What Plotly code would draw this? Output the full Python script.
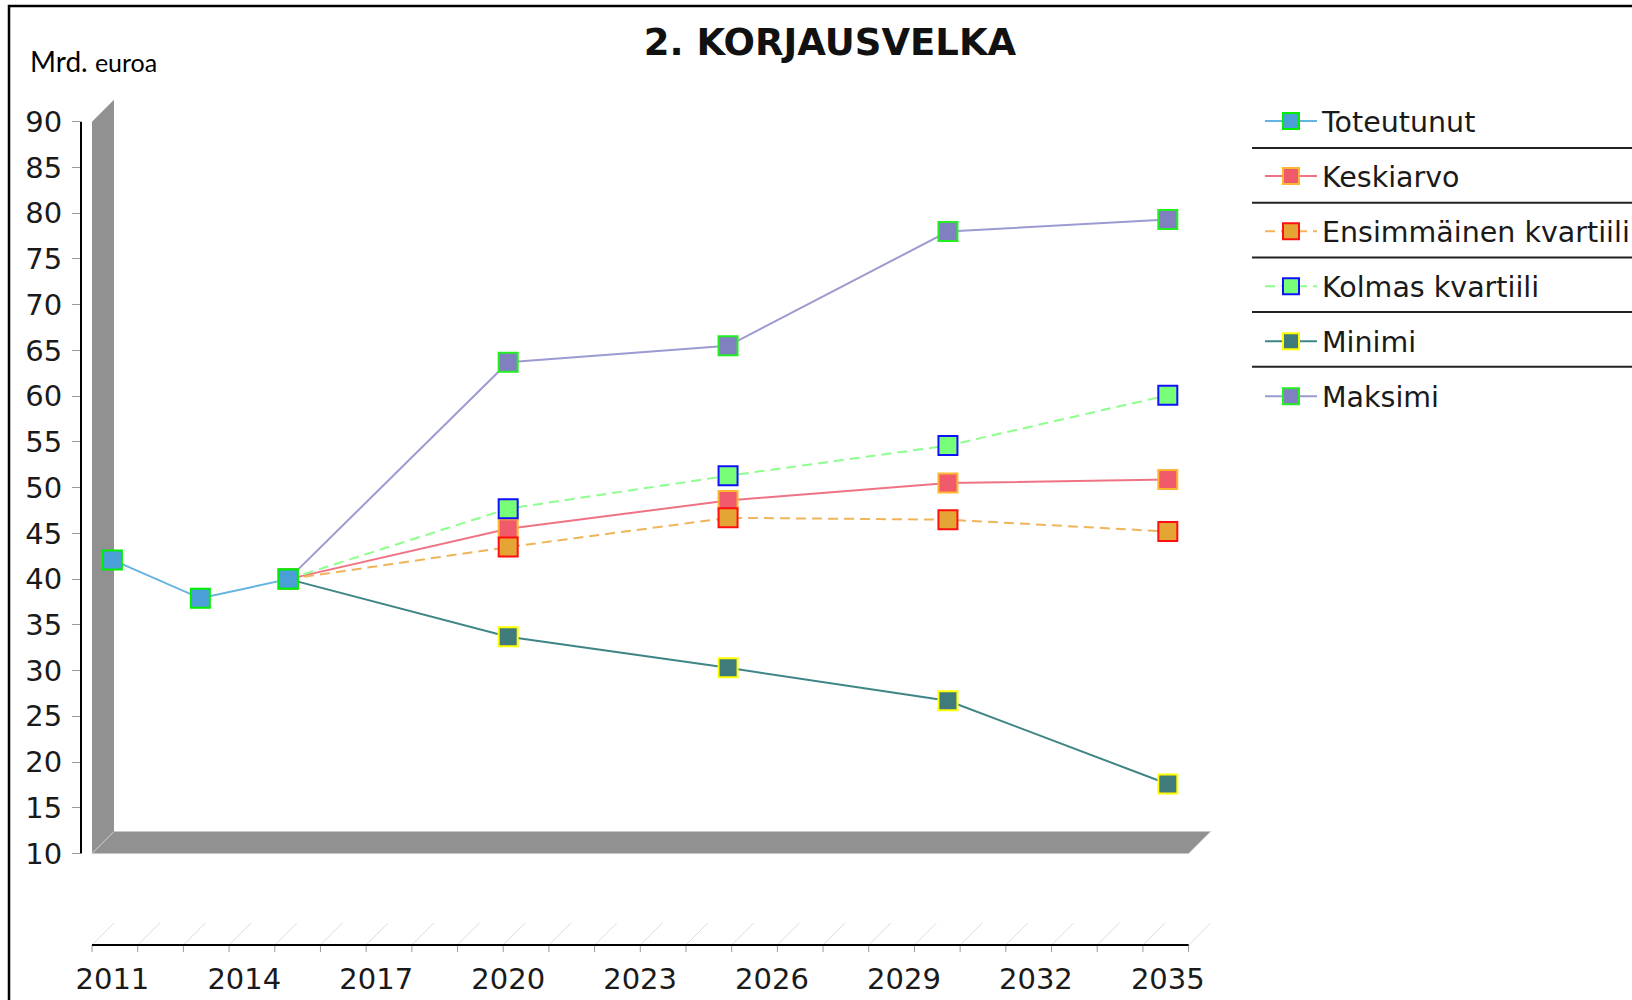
import plotly.graph_objects as go

# ---------------- data ----------------
years_actual = [2011, 2013, 2015]
toteutunut = [42.1, 37.9, 40.0]

years_proj = [2015, 2020, 2025, 2030, 2035]
keskiarvo = [40.0, 45.5, 48.6, 50.5, 50.9]
ensimmainen_kvartiili = [40.0, 43.5, 46.7, 46.5, 45.2]
kolmas_kvartiili = [40.0, 47.7, 51.3, 54.6, 60.1]
minimi = [40.0, 33.7, 30.3, 26.7, 17.6]
maksimi = [40.0, 63.7, 65.5, 78.0, 79.3]

x_tick_years = list(range(2011, 2036, 3))
all_years = list(range(2011, 2036))
y_tick_values = list(range(10, 95, 5))

# ---------------- layout geometry (pixels) ----------------
W, H = 1632, 1000
L, R, T, B = 81, 1212, 76, 945
X0, X1 = 2010.286, 2036.005
Y0, Y1 = 0, 95
DEPTH = 22
FRONT_L, FRONT_R = 92, 1188.6


def py_of(v):
    return B - (v - Y0) / (Y1 - Y0) * (B - T)


def xp(px):
    return (px - L) / (R - L)


def yp(py):
    return (B - py) / (B - T)


FONT = "DejaVu Sans"
TXT = "#1a1a1a"

fig = go.Figure()

series = [
    ("Keskiarvo", years_proj, keskiarvo, "#f07384", "solid", "#f05a6a", "#ffb732", 2),
    ("Ensimmäinen kvartiili", years_proj, ensimmainen_kvartiili, "#f0b45a", "10px,6px", "#e5a535", "#ff1010", 3),
    ("Kolmas kvartiili", years_proj, kolmas_kvartiili, "#8cff8c", "10px,6px", "#77ff77", "#1010ff", 4),
    ("Minimi", years_proj, minimi, "#3f8585", "solid", "#3f7b7b", "#ffff00", 5),
    ("Maksimi", years_proj, maksimi, "#9b9bd2", "solid", "#8080c0", "#22ee22", 6),
    ("Toteutunut", years_actual, toteutunut, "#63b3e3", "solid", "#4a9fd8", "#00ee00", 1),
]

for name, xs, ys, lc, dash, fc, oc, rank in series:
    fig.add_trace(go.Scatter(
        x=xs, y=ys, name=name, mode="lines+markers",
        line=dict(color=lc, width=2, dash=dash),
        marker=dict(symbol="square", size=19, color=fc, line=dict(color=oc, width=2)),
        legendgroup=name, legendrank=rank,
    ))

shapes = []
y10, y90 = py_of(10), py_of(90)
# left wall
shapes.append(dict(
    type="path", xref="paper", yref="paper",
    path=f"M {xp(FRONT_L)},{yp(y10)} L {xp(FRONT_L)},{yp(y90)} L {xp(FRONT_L+DEPTH)},{yp(y90-DEPTH)} L {xp(FRONT_L+DEPTH)},{yp(y10-DEPTH)} Z",
    fillcolor="#919191", line=dict(width=0), layer="below"))
# floor
shapes.append(dict(
    type="path", xref="paper", yref="paper",
    path=f"M {xp(FRONT_L)},{yp(y10)} L {xp(FRONT_R)},{yp(y10)} L {xp(FRONT_R+DEPTH)},{yp(y10-DEPTH)} L {xp(FRONT_L+DEPTH)},{yp(y10-DEPTH)} Z",
    fillcolor="#919191", line=dict(color="#c8c8c8", width=1), layer="below"))
# y axis line
shapes.append(dict(type="line", xref="paper", yref="paper",
                   x0=0, x1=0, y0=yp(y10), y1=yp(y90),
                   line=dict(color="black", width=2)))
# x axis: hatch, ticks, line
for yr in all_years:
    fx = FRONT_L + (yr - all_years[0]) * (FRONT_R - FRONT_L) / (all_years[-1] - all_years[0])
    shapes.append(dict(type="line", xref="paper", yref="paper",
                       x0=xp(fx), x1=xp(fx + DEPTH), y0=yp(B), y1=yp(B - DEPTH),
                       line=dict(color="#dcdcdc", width=1), layer="below"))
    shapes.append(dict(type="line", xref="paper", yref="paper",
                       x0=xp(fx), x1=xp(fx), y0=yp(B), y1=yp(B + 7),
                       line=dict(color="#999999", width=1)))
shapes.append(dict(type="line", xref="paper", yref="paper",
                   x0=xp(FRONT_L), x1=xp(FRONT_R), y0=yp(B), y1=yp(B),
                   line=dict(color="black", width=2)))
# legend separators
LEG_FIRST, LEG_SPACING = 122, 54.7
for i in range(5):
    yy = LEG_FIRST + i * LEG_SPACING + 26
    shapes.append(dict(type="line", xref="paper", yref="paper",
                       x0=xp(1252), x1=xp(1640), y0=yp(yy), y1=yp(yy),
                       line=dict(color="#222222", width=2)))
# outer border
shapes.append(dict(type="rect", xref="paper", yref="paper",
                   x0=xp(9), x1=xp(1700), y0=yp(6), y1=yp(1100),
                   line=dict(color="black", width=2.5), fillcolor="rgba(0,0,0,0)"))

fig.update_layout(
    width=W, height=H,
    margin=dict(l=L, r=W - R, t=T, b=H - B, pad=0, autoexpand=False),
    paper_bgcolor="white", plot_bgcolor="white",
    font=dict(family=FONT, color=TXT),
    title=dict(text="<b>2. KORJAUSVELKA</b>", x=830 / W, xanchor="center",
               y=1 - 42 / H, yanchor="middle", yref="container",
               font=dict(family=FONT, size=37, color="#111111")),
    xaxis=dict(range=[X0, X1], tickmode="array", tickvals=x_tick_years,
               ticktext=[str(v) for v in x_tick_years],
               showgrid=False, zeroline=False, showline=False, ticks="",
               ticklabelstandoff=14, automargin=False,
               tickfont=dict(family=FONT, size=29, color=TXT)),
    yaxis=dict(range=[Y0, Y1], tickmode="array", tickvals=y_tick_values,
               showgrid=False, zeroline=False, showline=False,
               ticks="outside", ticklen=8, tickcolor="#999999", tickwidth=1,
               ticklabelstandoff=4, automargin=False,
               tickfont=dict(family=FONT, size=29, color=TXT)),
    legend=dict(x=xp(1260), xanchor="left", y=yp(96), yanchor="top",
                font=dict(family=FONT, size=28.5, color=TXT),
                tracegroupgap=15, itemwidth=52, bgcolor="rgba(0,0,0,0)",
                traceorder="grouped"),
    shapes=shapes,
    annotations=[dict(
        text="Mrd. <span style='font-size:25px'>euroa</span>",
        xref="paper", yref="paper", x=xp(28), y=yp(61),
        xanchor="left", yanchor="middle", showarrow=False,
        font=dict(family="Lato", size=28, color="black"))],
)

fig.write_html("out.html", config={"displayModeBar": False},
               post_script="document.body.style.margin='0';")
